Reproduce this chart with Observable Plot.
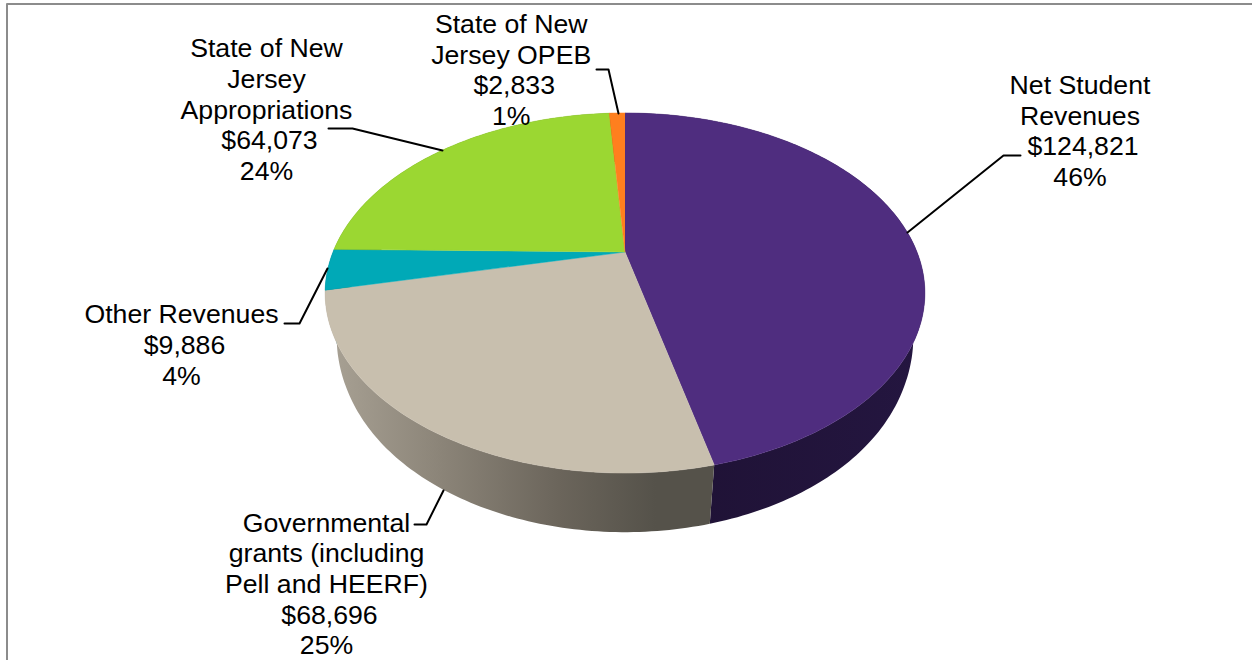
<!DOCTYPE html>
<html>
<head>
<meta charset="utf-8">
<style>html,body{margin:0;padding:0;background:#fff;overflow:hidden}svg{display:block}</style>
<script src="https://cdn.jsdelivr.net/npm/d3@7"></script>
<script src="https://cdn.jsdelivr.net/npm/@observablehq/plot@0.6"></script>
</head>
<body>
<div id="chart"></div>
<script>
// Data
const names = ["Net Student\nRevenues", "Governmental\ngrants (including\nPell and HEERF)", "Other Revenues", "State of New\nJersey\nAppropriations", "State of New\nJersey OPEB"];
const values = [124821, 68696, 9886, 64073, 2833];
const percents = ["46%", "25%", "4%", "24%", "1%"];

// Styles & layout
const faceColors = ["#4f2d7f", "#c8bfae", "#00a9b7", "#9bd732", "#ff7f1e"];
const wallColors = ["url(#wallPurple)", "url(#wallTan)", "#00646c", "#5c801e", "#994c12"];
const labelX = [1079.5, 326, 181, 266, 510.7];
const labelY = [131, 584, 345, 109.5, 70];
const lineStep = 30.72, dollarShift = 3;
const leaders = [
  [[907, 232], [1003, 155], [1020, 155]],
  [[443, 490], [426, 524], [414, 524]],
  [[327, 268], [299, 323], [284, 323]],
  [[442, 150], [352, 128], [328, 128]],
  [[618, 113], [608, 69], [596, 69]]
];
const W = 1252, H = 660;
const top_ = {cx: 624.5, cy: 251.5, b: 292, a: 170.7, k: 0.2278, shoulder: 0};
const low_ = {cx: 624.5, cy: 304.5, b: 277.5, a: 175.4, k: 0.2278, shoulder: 5};

// perspective projection of a unit circle point onto the page
const project = (theta, r = 1, p = top_) => {
  const u = r * Math.sin(theta), v = r * Math.cos(theta), w = 1 + p.k * v;
  return [p.cx + p.b * u / w + Math.sign(u) * p.shoulder * Math.abs(u) ** 20, p.cy - p.a * v / w];
};
const arcs = d3.pie().sort(null)(values);
const arcPoints = (arc, p = top_) => {
  const n = Math.max(4, Math.ceil((arc.endAngle - arc.startAngle) * 60));
  return d3.range(n + 1).map(i => project(arc.startAngle + (arc.endAngle - arc.startAngle) * i / n, 1, p));
};
const facePolygon = arc => [project(0, 0), ...arcPoints(arc)];
const wallPolygon = arc => [...arcPoints(arc), ...arcPoints(arc, low_).reverse()];

const gradient = (id, stops) => `<linearGradient id="${id}" x1="0" x2="1" y1="0" y2="0">${stops.map(([o, c]) => `<stop offset="${o}" stop-color="${c}"/>`).join("")}</linearGradient>`;
const defs = () => {
  const g = document.createElementNS("http://www.w3.org/2000/svg", "defs");
  g.innerHTML = gradient("wallPurple", [[0, "#1e1133"], [1, "#241640"]]) +
    gradient("wallTan", [[0, "#a9a295"], [0.3, "#8b8478"], [0.6, "#6b655b"], [0.85, "#55524a"], [1, "#55524a"]]);
  return g;
};

const labelLines = names.flatMap((n, i) => {
  const lines = [...n.split("\n"), d3.format("$,")(values[i]), percents[i]];
  return lines.map((text, j) => ({
    text,
    x: labelX[i] + (j === lines.length - 2 ? dollarShift : 0),
    y: labelY[i] + (j - (lines.length - 1) / 2) * lineStep
  }));
});
const px = d => d[0], py = d => d[1];

const chart = Plot.plot({
  width: W, height: H, margin: 0,
  x: {domain: [0, W], range: [0, W], axis: null},
  y: {domain: [0, H], range: [0, H], axis: null},
  style: {background: "#fff"},
  marks: [
    defs,
    Plot.line([[6.5, H], [6.5, 3.5], [W, 3.5]], {x: px, y: py, stroke: "#8c8c8c", strokeWidth: 2}),
    ...arcs.map((arc, i) => Plot.line(wallPolygon(arc), {x: px, y: py, fill: wallColors[i], stroke: "none"})),
    ...arcs.map((arc, i) => Plot.line(facePolygon(arc), {x: px, y: py, fill: faceColors[i], stroke: faceColors[i], strokeWidth: 0.5})),
    ...leaders.map(l => Plot.line(l, {x: px, y: py, stroke: "#000", strokeWidth: 2})),
    Plot.text(labelLines, {x: "x", y: "y", text: "text", fontSize: 26.67, fill: "#000", textAnchor: "middle", stroke: "none"})
  ]
});
chart.style.fontFamily = "'Liberation Sans', Arial, sans-serif";
document.getElementById("chart").append(chart);
</script>
</body>
</html>
